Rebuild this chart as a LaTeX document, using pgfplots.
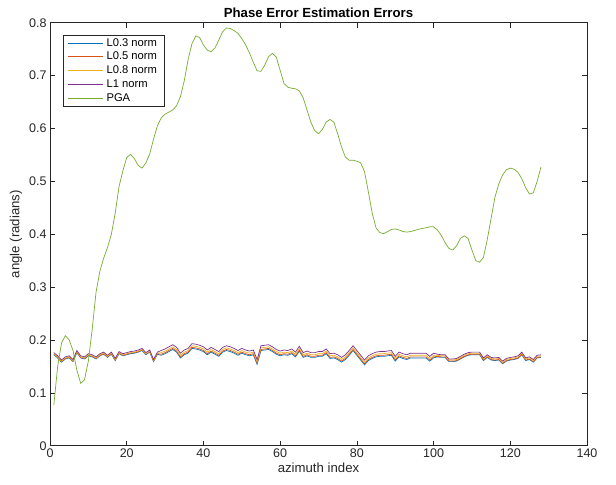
\documentclass[border=0pt]{standalone}
\usepackage{pgfplots}
\pgfplotsset{compat=1.18}
\usepackage{pgfplotstable}
\usepackage{fontspec}
\setmainfont{Liberation Sans}
\definecolor{mblue}{rgb}{0,0.447,0.741}
\definecolor{morange}{rgb}{0.85,0.325,0.098}
\definecolor{myellow}{rgb}{0.929,0.694,0.125}
\definecolor{mpurple}{rgb}{0.494,0.184,0.556}
\definecolor{mgreen}{rgb}{0.466,0.674,0.188}
\definecolor{axgray}{rgb}{0.15,0.15,0.15}
\pgfplotstableread{
x b o y p g
1 .172 .173 .174 .176 .077
2 .166 .167 .168 .170 .150
3 .158 .159 .160 .162 .194
4 .164 .165 .166 .168 .208
5 .166 .167 .168 .170 .200
6 .159 .160 .161 .163 .180
7 .176 .177 .178 .180 .143
8 .166 .167 .168 .170 .118
9 .164 .165 .166 .168 .125
10 .170 .171 .172 .174 .160
11 .168 .169 .170 .172 .220
12 .164 .165 .166 .168 .290
13 .170 .171 .172 .174 .330
14 .173 .174 .175 .177 .355
15 .167 .168 .169 .171 .375
16 .173 .174 .175 .177 .400
17 .161 .162 .163 .165 .440
18 .174 .175 .176 .178 .490
19 .170 .171 .172 .174 .520
20 .172 .173 .174 .176 .545
21 .174 .175 .176 .178 .551
22 .175 .176 .177 .179 .543
23 .177 .178 .179 .181 .530
24 .180 .181 .182 .184 .525
25 .172 .173 .174 .176 .535
26 .177 .178 .179 .181 .552
27 .159 .160 .161 .163 .580
28 .173 .174 .175 .177 .605
29 .171 .173 .176 .180 .620
30 .174 .176 .179 .183 .627
31 .178 .180 .183 .187 .631
32 .182 .184 .187 .191 .635
33 .177 .179 .182 .186 .643
34 .166 .168 .171 .175 .660
35 .172 .174 .177 .181 .690
36 .175 .177 .180 .184 .730
37 .184 .186 .189 .193 .760
38 .183 .185 .188 .192 .775
39 .181 .183 .186 .190 .772
40 .178 .180 .183 .187 .758
41 .172 .174 .177 .181 .748
42 .177 .179 .182 .186 .745
43 .173 .175 .178 .182 .752
44 .169 .171 .174 .178 .767
45 .177 .179 .182 .186 .783
46 .180 .182 .185 .189 .790
47 .178 .180 .183 .187 .789
48 .175 .177 .180 .184 .785
49 .171 .173 .176 .180 .780
50 .175 .177 .180 .184 .770
51 .172 .174 .177 .181 .758
52 .170 .172 .175 .179 .743
53 .172 .174 .177 .181 .725
54 .154 .156 .159 .163 .709
55 .180 .182 .185 .189 .708
56 .181 .183 .186 .190 .720
57 .182 .184 .187 .191 .736
58 .178 .180 .183 .187 .742
59 .173 .175 .178 .182 .735
60 .170 .172 .175 .179 .710
61 .172 .174 .177 .181 .685
62 .171 .173 .176 .180 .678
63 .174 .176 .179 .183 .676
64 .168 .170 .173 .177 .675
65 .179 .181 .184 .188 .671
66 .167 .169 .172 .176 .658
67 .170 .172 .175 .179 .635
68 .167 .169 .172 .176 .612
69 .167 .169 .172 .176 .596
70 .169 .171 .174 .178 .590
71 .169 .171 .174 .178 .598
72 .174 .176 .179 .183 .612
73 .165 .167 .170 .174 .617
74 .166 .168 .171 .175 .612
75 .163 .165 .168 .172 .590
76 .158 .160 .163 .167 .565
77 .163 .165 .168 .172 .546
78 .171 .173 .176 .180 .540
79 .180 .182 .185 .189 .540
80 .171 .173 .176 .180 .538
81 .162 .164 .167 .171 .535
82 .153 .155 .158 .162 .518
83 .161 .163 .166 .170 .480
84 .165 .167 .170 .174 .440
85 .168 .170 .173 .177 .412
86 .169 .171 .174 .178 .403
87 .169 .171 .174 .178 .401
88 .170 .172 .175 .179 .405
89 .171 .173 .176 .180 .409
90 .160 .162 .165 .169 .410
91 .168 .170 .173 .177 .408
92 .165 .167 .170 .174 .405
93 .163 .165 .168 .172 .404
94 .166 .168 .171 .175 .405
95 .166 .168 .171 .175 .407
96 .166 .168 .171 .175 .409
97 .166 .168 .171 .175 .411
98 .166 .168 .171 .175 .412
99 .160 .162 .165 .169 .414
100 .166 .168 .171 .175 .414
101 .168 .169 .171 .173 .408
102 .167 .168 .170 .172 .398
103 .167 .168 .170 .172 .384
104 .159 .160 .162 .164 .373
105 .159 .160 .162 .164 .370
106 .160 .161 .163 .165 .378
107 .164 .165 .167 .169 .392
108 .168 .169 .171 .173 .397
109 .171 .172 .174 .176 .392
110 .172 .173 .175 .177 .370
111 .172 .173 .175 .177 .350
112 .172 .173 .175 .177 .347
113 .161 .162 .164 .166 .356
114 .167 .168 .170 .172 .390
115 .162 .163 .165 .167 .430
116 .161 .162 .164 .166 .470
117 .162 .163 .165 .167 .495
118 .155 .156 .158 .160 .512
119 .160 .161 .163 .165 .522
120 .162 .163 .165 .167 .525
121 .163 .164 .166 .168 .523
122 .165 .166 .168 .170 .517
123 .172 .173 .175 .177 .505
124 .161 .162 .164 .166 .488
125 .163 .164 .166 .168 .476
126 .158 .159 .161 .163 .478
127 .166 .167 .169 .171 .500
128 .167 .168 .170 .172 .527
}\data
\begin{document}
\begin{tikzpicture}
\begin{axis}[
  width=537pt, height=423pt, scale only axis,
  xmin=0, xmax=140, ymin=0, ymax=0.8,
  xtick={0,20,40,60,80,100,120,140},
  ytick={0,0.1,0.2,0.3,0.4,0.5,0.6,0.7,0.8},
  yticklabels={0,0.1,0.2,0.3,0.4,0.5,0.6,0.7,0.8},
  /pgf/number format/assume math mode=true,
  tick align=inside, major tick length=5pt,
  tick style={axgray, line width=0.5pt},
  axis line style={axgray, line width=0.5pt},
  ticklabel style={font=\fontsize{12.5}{14}\selectfont, text=axgray},
  xlabel={azimuth index}, ylabel={angle (radians)},
  label style={font=\fontsize{13.2}{15}\selectfont, text=axgray},
  xlabel style={yshift=2pt},
  title={Phase Error Estimation Errors},
  title style={font=\bfseries\fontsize{13.2}{15}\selectfont, yshift=-4pt},
  legend cell align=left,
  legend style={at={(0,1)}, anchor=north west, xshift=13.3pt, yshift=-12.3pt,
    draw=axgray, line width=0.5pt, font=\fontsize{11.2}{13}\selectfont,
    inner xsep=4pt, inner ysep=1pt, row sep=0pt,
    nodes={text height=7.8pt, text depth=2pt, inner ysep=2pt, inner xsep=3pt}},
  legend image code/.code={\draw[#1, line width=1pt] (0pt,0pt) -- (35pt,0pt);},
  every axis plot/.append style={line width=0.7pt},
]
\addplot[draw=mblue, no markers] table[x=x, y=b] {\data};
\addlegendentry{L0.3 norm}
\addplot[draw=morange, no markers] table[x=x, y=o] {\data};
\addlegendentry{L0.5 norm}
\addplot[draw=myellow, no markers] table[x=x, y=y] {\data};
\addlegendentry{L0.8 norm}
\addplot[draw=mpurple, no markers] table[x=x, y=p] {\data};
\addlegendentry{L1 norm}
\addplot[draw=mgreen, no markers] table[x=x, y=g] {\data};
\addlegendentry{PGA}
\end{axis}
\path ([xshift=-50pt,yshift=-39pt]current axis.south west) rectangle ([xshift=29pt,yshift=22.7pt]current axis.north east);
\end{tikzpicture}
\end{document}
